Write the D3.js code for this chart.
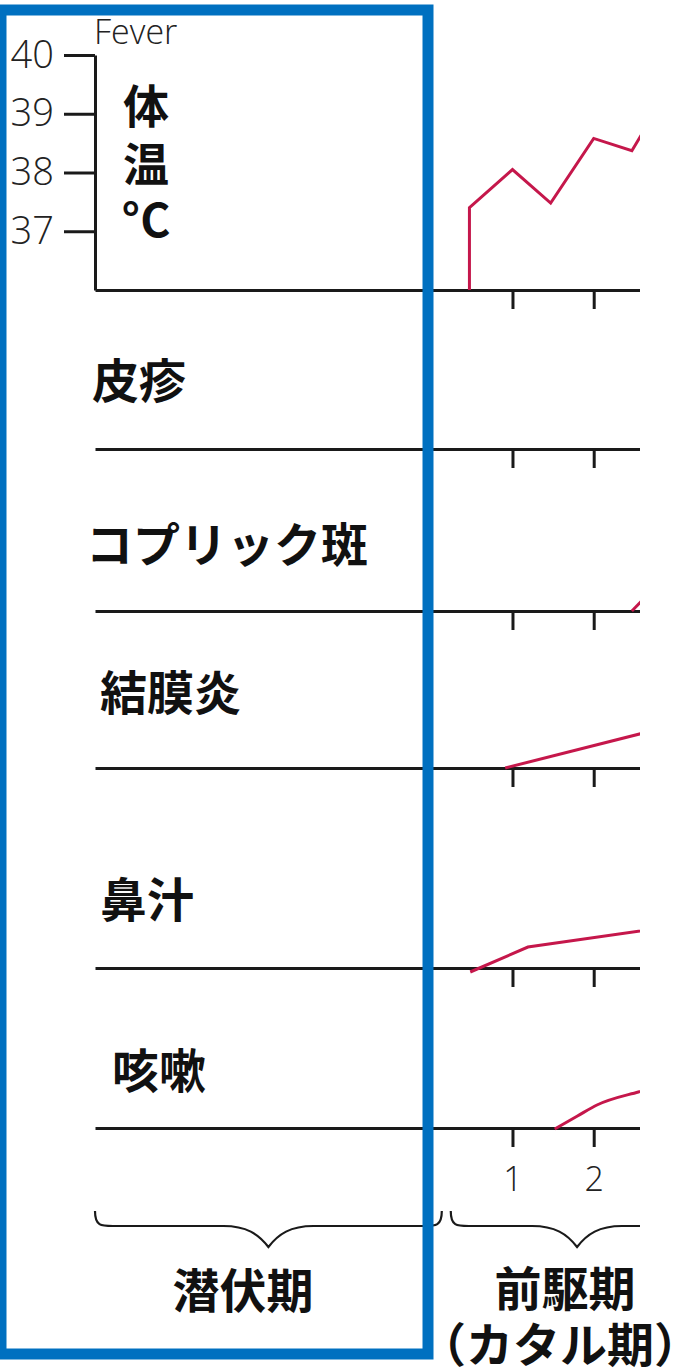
<!DOCTYPE html>
<html>
<head>
<meta charset="utf-8">
<script src="https://cdn.jsdelivr.net/npm/d3@7"></script>
<style>
  html, body { margin: 0; padding: 0; background: #fff; }
  svg { display: block; }
  .num { font-family: "Open Sans", "Noto Sans", sans-serif; font-weight: 300; fill: #222; }
  .jp { font-family: "Noto Sans CJK JP", sans-serif; font-weight: 700; fill: #111; }
</style>
</head>
<body>
<script>
// temperature axis
const tempTicks = [37, 38, 39, 40];
const dayTicks = [1, 2];

// fever curve (day, degrees C)
const feverDays = [0.47, 0.47, 1.0, 1.47, 2.0, 2.47, 3.0];
const feverTemps = [36.0, 37.4, 38.05, 37.48, 38.58, 38.37, 39.6];

// symptom rows
const symptoms = ["皮疹", "コプリック斑", "結膜炎", "鼻汁", "咳嗽"];
// symptom intensity curves (day, level)
const rashDays = [];
const rashLevels = [];
const koplikDays = [2.47, 3.0];
const koplikLevels = [0, 44];
const conjDays = [0.91, 3.0];
const conjLevels = [0, 43];
const noseDays = [0.48, 1.19, 3.0];
const noseLevels = [-4, 21, 42];
const coughDays = [1.52, 1.8, 2.04, 2.55, 3.0];
const coughLevels = [-1, 12, 23, 36, 45];

// phases (brace spans in days)
const phaseNames = ["潜伏期", "前駆期"];
const phaseStart = [-4.14, 0.24];
const phaseEnd = [0.13, 3.35];

const width = 679, height = 1368;
const red = "#c5174b";
const ink = "#1a1a1a";

const svg = d3.select("body").append("svg")
  .attr("width", width)
  .attr("height", height);

svg.append("rect").attr("width", width).attr("height", height).attr("fill", "#fff");

svg.append("clipPath").attr("id", "clip")
  .append("rect").attr("x", 0).attr("y", 0).attr("width", 640).attr("height", height);

const x = d3.scaleLinear().domain([-4.14, 2.57]).range([95, 640]);
const yT = d3.scaleLinear().domain([36, 40]).range([290, 55]);
const lvl = d3.scaleLinear().domain([0, 100]).range([0, -100]);

const plot = svg.append("g").attr("clip-path", "url(#clip)");

// temperature axis
const tAxis = plot.append("g")
  .attr("transform", "translate(95,0)")
  .call(d3.axisLeft(yT).tickValues(tempTicks).tickSize(31).tickSizeOuter(0)
    .tickPadding(10).tickFormat(d3.format("d")));
tAxis.select(".domain").attr("stroke", ink).attr("stroke-width", 3);
tAxis.selectAll(".tick line").attr("stroke", ink).attr("stroke-width", 3);
tAxis.selectAll(".tick text").attr("class", "num").attr("font-size", 38).attr("fill", "#222");

svg.append("text").attr("class", "num")
  .attr("x", 94).attr("y", 44).attr("font-size", 34)
  .text("Fever");

["体", "温", "°C"].forEach((t, i) => {
  svg.append("text").attr("class", "jp")
    .attr("x", 146).attr("y", [103, 161, 217][i])
    .attr("text-anchor", "middle").attr("dominant-baseline", "central")
    .attr("font-size", 46)
    .text(t);
});

// row baselines
const rowBase = [290, 449, 611, 768, 968, 1128];

rowBase.forEach((b, i) => {
  const last = i === rowBase.length - 1;
  const ax = plot.append("g")
    .attr("transform", `translate(0,${b})`)
    .call(d3.axisBottom(x).tickValues(dayTicks).tickSizeInner(19).tickSizeOuter(0)
      .tickPadding(20).tickFormat(last ? d3.format("d") : ""));
  ax.select(".domain").attr("stroke", ink).attr("stroke-width", 3);
  ax.selectAll(".tick line").attr("stroke", ink).attr("stroke-width", 3);
  ax.selectAll(".tick text").attr("class", "num").attr("font-size", 34).attr("fill", "#222");
});

// fever line
const feverLine = d3.line()
  .x((d, i) => x(feverDays[i]))
  .y(d => yT(d));
plot.append("path")
  .attr("d", feverLine(feverTemps))
  .attr("fill", "none").attr("stroke", red).attr("stroke-width", 3)
  .attr("stroke-linejoin", "miter");

// symptom lines
const symDays = [rashDays, koplikDays, conjDays, noseDays, coughDays];
const symLevels = [rashLevels, koplikLevels, conjLevels, noseLevels, coughLevels];
const labelPos = [[92, 377], [86, 541], [100, 689], [100, 896], [112, 1067]];

symptoms.forEach((name, i) => {
  const b = rowBase[i + 1];
  svg.append("text").attr("class", "jp")
    .attr("x", labelPos[i][0]).attr("y", labelPos[i][1])
    .attr("dominant-baseline", "central")
    .attr("font-size", 47)
    .text(name);
  if (!symDays[i].length) return;
  const line = d3.line()
    .x((d, j) => x(symDays[i][j]))
    .y(d => b + lvl(d))
    .curve(i === 4 ? d3.curveMonotoneX : d3.curveLinear);
  plot.append("path")
    .attr("d", line(symLevels[i]))
    .attr("fill", "none").attr("stroke", red).attr("stroke-width", 3);
});

// phase braces
function brace(x0, x1, y0, y1, y2) {
  const xm = (x0 + x1) / 2;
  return `M${x0},${y0} C${x0},${y1} ${x0 + 6},${y1} ${x0 + 18},${y1}` +
    ` L${xm - 45},${y1} C${xm - 22},${y1} ${xm - 10},${y1 + 8} ${xm},${y2}` +
    ` C${xm + 10},${y1 + 8} ${xm + 22},${y1} ${xm + 45},${y1}` +
    ` L${x1 - 18},${y1} C${x1 - 6},${y1} ${x1},${y1} ${x1},${y0}`;
}
phaseNames.forEach((p, i) => {
  plot.append("path")
    .attr("d", brace(x(phaseStart[i]), x(phaseEnd[i]), 1211, 1226, 1247))
    .attr("fill", "none").attr("stroke", ink).attr("stroke-width", 2.2);
});

// phase labels
svg.append("text").attr("class", "jp")
  .attr("x", 243).attr("y", 1287)
  .attr("text-anchor", "middle").attr("dominant-baseline", "central")
  .attr("font-size", 47)
  .text(phaseNames[0]);

const p2 = svg.append("text").attr("class", "jp")
  .attr("text-anchor", "middle").attr("font-size", 47);
p2.append("tspan").attr("x", 565).attr("y", 1306).text(phaseNames[1]);
p2.append("tspan").attr("x", 560).attr("y", 1362).text("（カタル期）");

// blue frame over the incubation columns
svg.append("rect")
  .attr("x", 1).attr("y", 10).attr("width", 427).attr("height", 1344)
  .attr("fill", "none").attr("stroke", "#0070c0").attr("stroke-width", 11);
</script>
</body>
</html>
